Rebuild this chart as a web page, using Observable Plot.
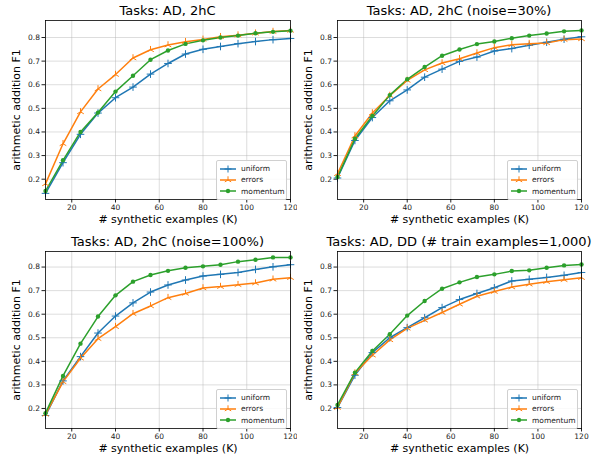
<!DOCTYPE html>
<html>
<head>
<meta charset="utf-8">
<script src="https://cdn.jsdelivr.net/npm/d3@7"></script>
<script src="https://cdn.jsdelivr.net/npm/@observablehq/plot@0.6"></script>
<style>
  body { margin:0; background:#fff; font-family:"DejaVu Sans", sans-serif; }
  #wrap { position:relative; width:597px; height:457px; overflow:hidden; }
  .panel { position:absolute; }
  .title { position:absolute; font-size:13px; color:#000; white-space:nowrap; transform:translateX(-50%); }
  .legend { position:absolute; background:rgba(255,255,255,0.85); border:1px solid #d0d0d0; border-radius:2px; font-size:7.5px; color:#222; }
  .legend div { display:flex; align-items:center; height:11.3px; }
  .legend svg { margin:0 5px 0 3px; }
</style>
</head>
<body>
<div id="wrap"></div>
<script>
const xs = [8, 16, 24, 32, 40, 48, 56, 64, 72, 80, 88, 96, 104, 112, 120];
const seriesNames = ["uniform", "errors", "momentum"];
const seriesColors = ["#1f77b4", "#ff7f0e", "#2ca02c"];
const titles = [
  "Tasks: AD, 2hC",
  "Tasks: AD, 2hC (noise=30%)",
  "Tasks: AD, 2hC (noise=100%)",
  "Tasks: AD, DD (# train examples=1,000)"
];
const xTicks = [20, 40, 60, 80, 100, 120];
const yTicks = [0.2, 0.3, 0.4, 0.5, 0.6, 0.7, 0.8];
const xLabel = "# synthetic examples (K)";
const yLabel = "arithmetic addition F1";

// Panel 1: Tasks: AD, 2hC
const p1Uniform  = [0.14, 0.27, 0.39, 0.48, 0.545, 0.59, 0.645, 0.69, 0.73, 0.75, 0.762, 0.774, 0.783, 0.791, 0.796];
const p1Errors   = [0.18, 0.35, 0.485, 0.582, 0.643, 0.713, 0.748, 0.768, 0.782, 0.792, 0.803, 0.81, 0.818, 0.825, 0.83];
const p1Momentum = [0.15, 0.28, 0.40, 0.482, 0.571, 0.638, 0.706, 0.745, 0.773, 0.788, 0.80, 0.808, 0.818, 0.824, 0.829];
// Panel 2: noise=30%
const p2Uniform  = [0.205, 0.364, 0.461, 0.532, 0.578, 0.632, 0.666, 0.699, 0.717, 0.743, 0.753, 0.767, 0.78, 0.793, 0.803];
const p2Errors   = [0.223, 0.383, 0.48, 0.554, 0.618, 0.663, 0.692, 0.71, 0.734, 0.757, 0.769, 0.774, 0.777, 0.791, 0.794];
const p2Momentum = [0.209, 0.371, 0.468, 0.556, 0.623, 0.675, 0.723, 0.749, 0.772, 0.783, 0.797, 0.808, 0.817, 0.826, 0.83];
// Panel 3: noise=100%
const p3Uniform  = [0.17, 0.317, 0.42, 0.52, 0.592, 0.648, 0.694, 0.724, 0.745, 0.762, 0.769, 0.777, 0.79, 0.801, 0.81];
const p3Errors   = [0.175, 0.313, 0.413, 0.496, 0.547, 0.602, 0.635, 0.67, 0.688, 0.711, 0.717, 0.725, 0.732, 0.748, 0.755];
const p3Momentum = [0.18, 0.338, 0.475, 0.59, 0.68, 0.738, 0.766, 0.784, 0.797, 0.803, 0.81, 0.823, 0.831, 0.841, 0.841];
// Panel 4: DD, 1,000 train examples
const p4Uniform  = [0.204, 0.341, 0.437, 0.50, 0.543, 0.585, 0.628, 0.662, 0.688, 0.712, 0.741, 0.748, 0.756, 0.765, 0.777];
const p4Errors   = [0.204, 0.35, 0.426, 0.491, 0.54, 0.574, 0.607, 0.642, 0.676, 0.696, 0.715, 0.727, 0.738, 0.746, 0.755];
const p4Momentum = [0.215, 0.352, 0.444, 0.515, 0.594, 0.656, 0.708, 0.735, 0.758, 0.769, 0.783, 0.786, 0.797, 0.807, 0.811];

const panelData = [
  [p1Uniform, p1Errors, p1Momentum],
  [p2Uniform, p2Errors, p2Momentum],
  [p3Uniform, p3Errors, p3Momentum],
  [p4Uniform, p4Errors, p4Momentum]
];

// layout (positions only)
const layout = [
  {left:0,   top:0,   width:297, height:228, ml:45, mr:7,  mt:20, mb:29, yd:[0.114, 0.872]},
  {left:297, top:0,   width:300, height:228, ml:40, mr:16, mt:20, mb:29, yd:[0.114, 0.872]},
  {left:0,   top:228, width:297, height:229, ml:45, mr:7,  mt:23, mb:29, yd:[0.115, 0.866]},
  {left:297, top:228, width:300, height:229, ml:40, mr:16, mt:23, mb:29, yd:[0.115, 0.866]}
];

// custom marker symbols (matplotlib-like '+', tri, '.')
const plusSym = {draw(ctx, size){ const r = Math.sqrt(size)/2; ctx.moveTo(-r,0); ctx.lineTo(r,0); ctx.moveTo(0,-r); ctx.lineTo(0,r); }};
const triSym = {draw(ctx, size){ const r = Math.sqrt(size)/2; ctx.moveTo(0,0); ctx.lineTo(0,-r); ctx.moveTo(0,0); ctx.lineTo(-0.866*r,0.5*r); ctx.moveTo(0,0); ctx.lineTo(0.866*r,0.5*r); }};

const wrap = document.getElementById("wrap");

panelData.forEach((series, pi) => {
  const L = layout[pi];
  const rows = [];
  series.forEach((vals, si) => vals.forEach((v, i) => rows.push({x: xs[i], y: v, s: seriesNames[si]})));
  const sub = name => rows.filter(d => d.s === name);
  const plot = Plot.plot({
    width: L.width, height: L.height,
    marginLeft: L.ml, marginRight: L.mr, marginTop: L.mt, marginBottom: L.mb,
    style: {fontFamily: "DejaVu Sans, sans-serif", fontSize: "7.5px", color: "#222", background: "transparent"},
    x: {domain: [8, 120], ticks: xTicks, tickSize: 3.5, tickPadding: 2, label: xLabel, labelAnchor: "center", labelOffset: 23, labelArrow: false},
    y: {domain: L.yd, ticks: yTicks, tickFormat: ".1f", tickSize: 3.5, tickPadding: 2, label: yLabel, labelAnchor: "center", labelOffset: 33, labelArrow: false},
    color: {domain: seriesNames, range: seriesColors},
    marks: [
      Plot.gridX(xTicks, {stroke: "#b0b0b0", strokeOpacity: 0.55, strokeWidth: 0.8}),
      Plot.gridY(yTicks, {stroke: "#b0b0b0", strokeOpacity: 0.55, strokeWidth: 0.8}),
      Plot.line(rows, {x: "x", y: "y", stroke: "s", z: "s", strokeWidth: 1.5}),
      Plot.dot(sub("uniform"), {x: "x", y: "y", stroke: "s", symbol: plusSym, r: 4.3, strokeWidth: 1}),
      Plot.dot(sub("errors"), {x: "x", y: "y", stroke: "s", symbol: triSym, r: 4.3, strokeWidth: 1}),
      Plot.dot(sub("momentum"), {x: "x", y: "y", fill: "s", r: 2.2}),
      Plot.frame({stroke: "#000", strokeWidth: 0.8})
    ]
  });
  plot.classList.add("panel");
  plot.style.left = L.left + "px";
  plot.style.top = L.top + "px";
  wrap.appendChild(plot);

  // axis label font sizes
  plot.querySelectorAll("g[aria-label='x-axis label'], g[aria-label='y-axis label']").forEach(g => {
    g.style.fontSize = "11px";
    g.setAttribute("fill", "#000");
    g.querySelectorAll("text").forEach(t => t.style.fontSize = "11px");
  });

  // title
  const frameCenter = L.left + L.ml + (L.width - L.ml - L.mr) / 2;
  const t = document.createElement("div");
  t.className = "title";
  t.textContent = titles[pi];
  t.style.left = frameCenter + "px";
  t.style.top = (L.top + L.mt - 17) + "px";
  wrap.appendChild(t);

  // legend (lower right inside the frame)
  const lg = document.createElement("div");
  lg.className = "legend";
  lg.style.left = (L.left + L.width - L.mr - 74) + "px";
  lg.style.top = (L.top + L.height - L.mb - 39) + "px";
  lg.style.width = "69px";
  lg.style.padding = "2px 0";
  const markerSvg = [
    c => `<line x1="0" y1="5" x2="16" y2="5" stroke="${c}" stroke-width="1.5"/><path d="M4.5,5H11.5M8,1.5V8.5" stroke="${c}" stroke-width="1"/>`,
    c => `<line x1="0" y1="5" x2="16" y2="5" stroke="${c}" stroke-width="1.5"/><path d="M8,5V1.3M8,5L4.8,6.9M8,5L11.2,6.9" stroke="${c}" stroke-width="1"/>`,
    c => `<line x1="0" y1="5" x2="16" y2="5" stroke="${c}" stroke-width="1.5"/><circle cx="8" cy="5" r="2.2" fill="${c}"/>`
  ];
  seriesNames.forEach((n, si) => {
    const row = document.createElement("div");
    row.innerHTML = `<svg width="16" height="10">${markerSvg[si](seriesColors[si])}</svg><span>${n}</span>`;
    lg.appendChild(row);
  });
  wrap.appendChild(lg);
});
</script>
</body>
</html>
